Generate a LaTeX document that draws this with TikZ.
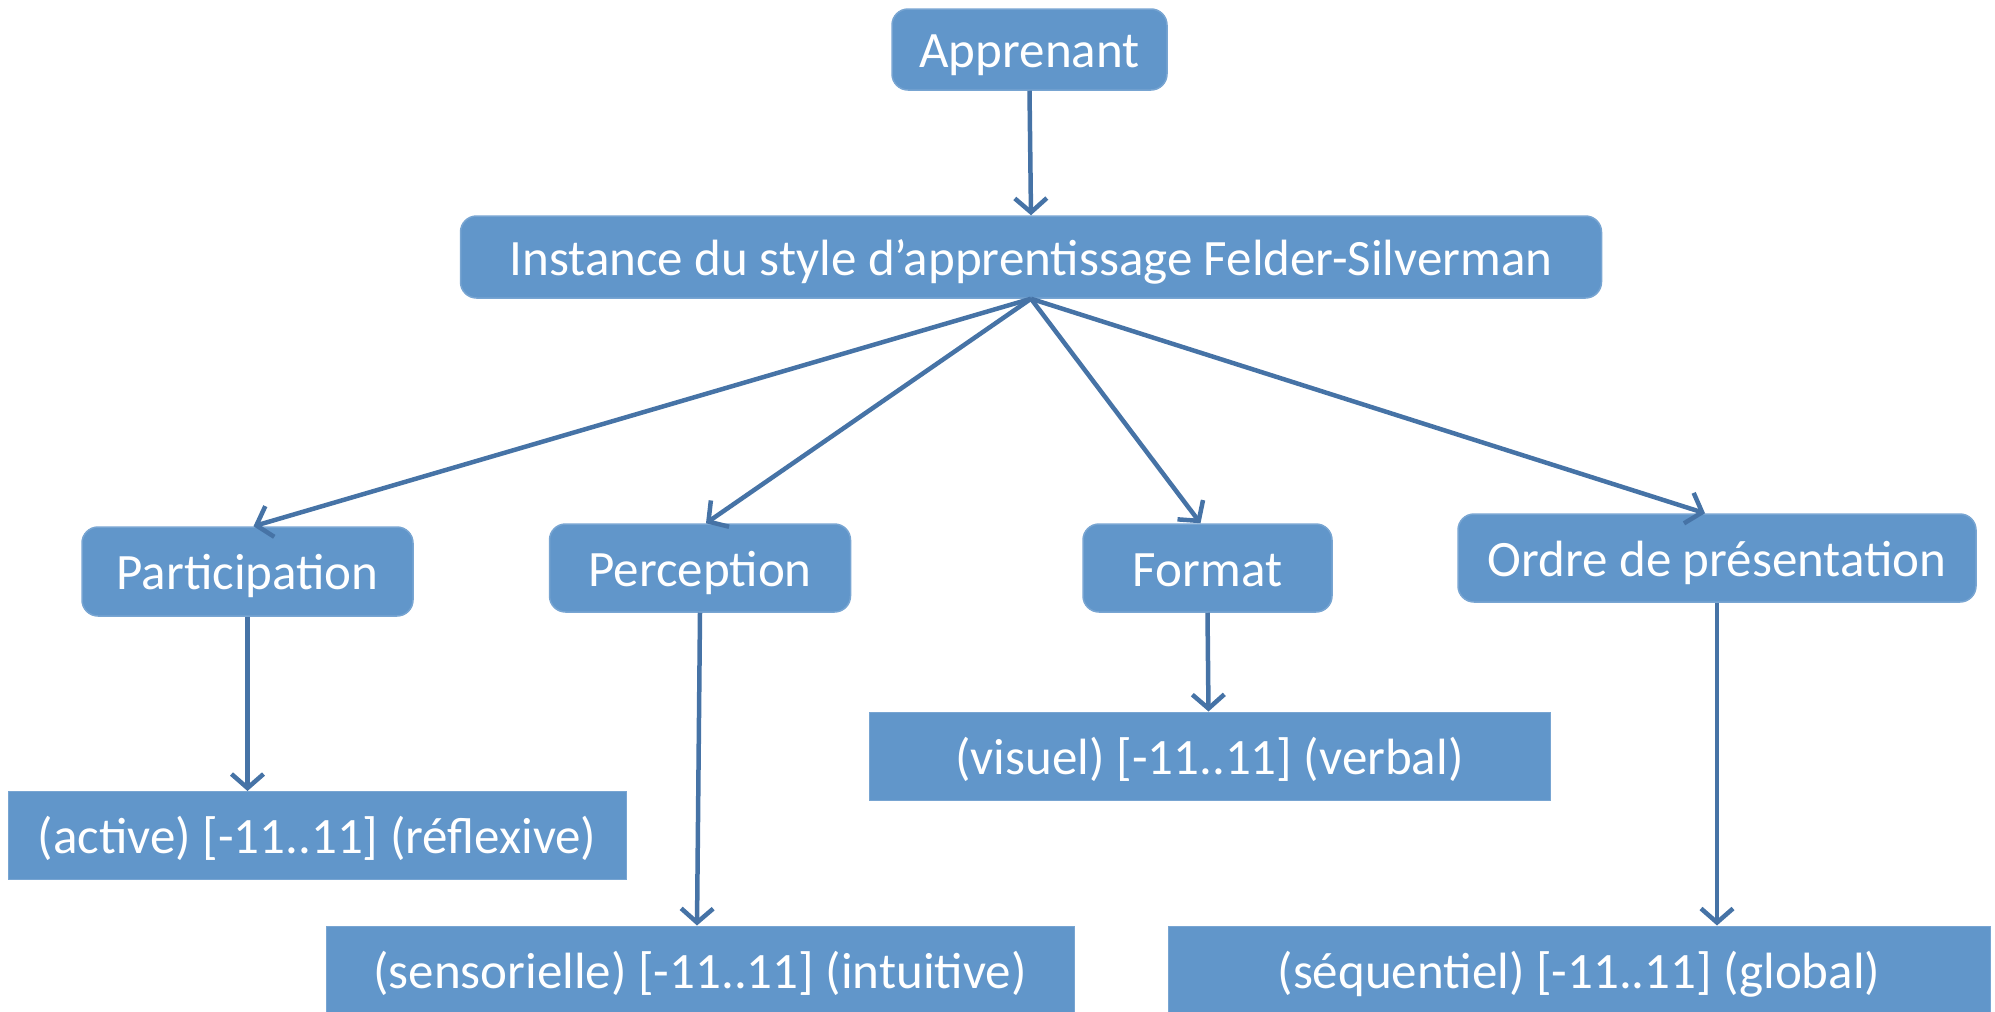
\documentclass[tikz,border=0pt]{standalone}
\usepackage{fontspec}
\setmainfont{Carlito}
\usetikzlibrary{arrows.meta}
\definecolor{boxfill}{RGB}{97,150,202}
\definecolor{boxedge}{RGB}{120,165,210}
\definecolor{linkcol}{RGB}{70,115,166}
\begin{document}
\begin{tikzpicture}[x=1pt,y=-1pt,
  every node/.style={font=\fontsize{51}{60}\selectfont, text=white, inner sep=0pt,
    text height=38pt, text depth=2pt},
  rbox/.style={fill=boxfill, draw=boxedge, line width=1.5pt, rounded corners=16pt, minimum height=#1},
  rbox/.default=86pt,
  sbox/.style={fill=boxfill, draw=boxedge, line width=1pt, minimum height=88pt},
  link/.style={draw=linkcol, line width=4.5pt, -{Straight Barb[length=14pt,width=32pt,line width=4.5pt]}}]
\useasboundingbox (0,0) rectangle (1995,1012);

% top of the hierarchy
\node[rbox=81pt, minimum width=275pt] (app) at (1029.5,49.5) {Apprenant};
\node[rbox=82pt, minimum width=1141pt] (inst) at (1031,257) {Instance du style d’apprentissage Felder-Silverman};

% the four dimensions
\node[rbox=89pt, minimum width=331pt] (part) at (247.5,571.5) {Participation};
\node[rbox=88pt, minimum width=301pt] (perc) at (700,568) {Perception};
\node[rbox=88pt, minimum width=249pt] (form) at (1207.5,568) {Format};
\node[rbox=88pt, minimum width=518pt] (ordre) at (1717,558) {Ordre de présentation};

% value ranges
\node[sbox, minimum width=618pt] (act) at (317,835.5) {(active) [-11..11] (réflexive)};
\node[sbox, minimum width=748pt, minimum height=88pt] (sens) at (700,970) {(sensorielle) [-11..11] (intuitive)};
\node[sbox, minimum width=681pt] (vis) at (1209.5,756) {(visuel) [-11..11] (verbal)};
\node[sbox, minimum width=822pt, minimum height=88pt] (seq) at (1579,970) {(séquentiel) [-11..11] (global)};

% connectors
\draw[link] (app.south) -- (inst.north);
\draw[link] (inst.south) -- ([xshift=6pt]part.north);
\draw[link] (inst.south) -- ([xshift=6pt]perc.north);
\draw[link] (inst.south) -- ([xshift=-7pt]form.north);
\draw[link] (inst.south) -- ([xshift=-12pt]ordre.north);
\draw[link] (part.south) -- (part.south |- act.north);
\draw[link] (perc.south) -- ([xshift=-3pt]perc.south |- sens.north);
\draw[link] (form.south) -- ([xshift=1pt]form.south |- vis.north);
\draw[link] (ordre.south) -- (ordre.south |- seq.north);
\end{tikzpicture}
\end{document}
